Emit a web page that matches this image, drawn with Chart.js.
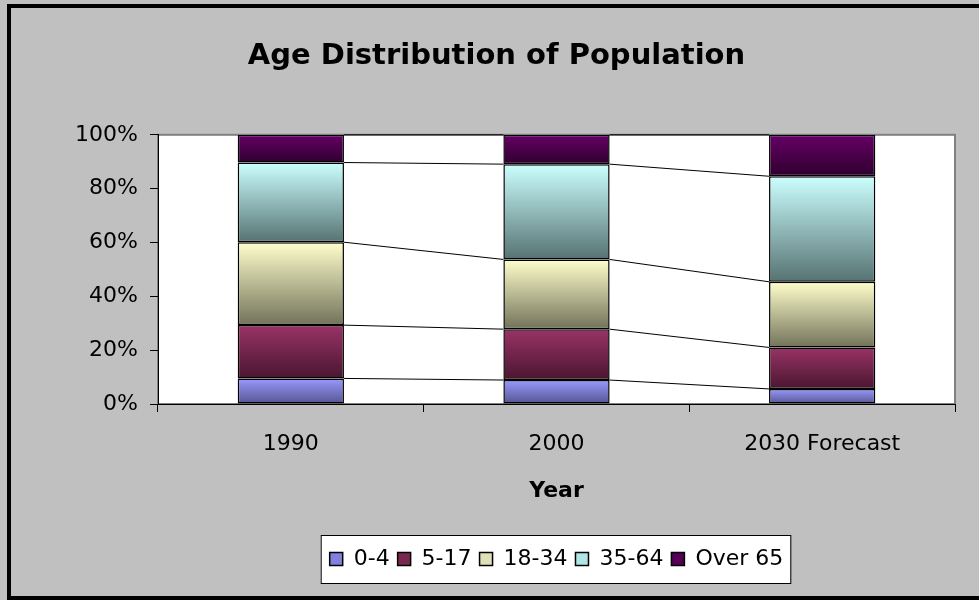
<!DOCTYPE html>
<html lang="en">
  <head>
    <meta charset="UTF-8" />
    <title>Age Distribution of Population</title>
    <script src="https://cdn.jsdelivr.net/npm/chart.js@4"></script>
    <style>
      html,
      body {
        margin: 0;
        padding: 0;
        background: #c0c0c0;
      }
      .chart-container {
        position: relative;
        width: 979px;
        height: 600px;
      }
    </style>
  </head>
  <body>
    <div class="chart-container">
      <canvas id="ageChart"></canvas>
    </div>

    <script>
      // share of population per age group, in percent
      const years = ['1990', '2000', '2030 Forecast'];
      const ages0to4 = [9.5, 8.9, 5.6];
      const ages5to17 = [19.8, 18.9, 15.4];
      const ages18to34 = [30.8, 25.9, 24.4];
      const ages35to64 = [29.6, 35.4, 39.2];
      const agesOver65 = [10.3, 10.9, 15.4];
      const groupLabels = ['0-4', '5-17', '18-34', '35-64', 'Over 65'];
      const percentTicks = [0, 20, 40, 60, 80, 100];

      // light top / dark bottom of each segment, plus the flat legend colour
      const fillTop = ['#9999ff', '#993366', '#ffffcc', '#ccffff', '#660066'];
      const fillBottom = ['#555590', '#4a1630', '#72725a', '#567272', '#2e002e'];
      const swatch = ['#8080dd', '#7a2850', '#e0e0b8', '#b0e6e6', '#550055'];

      Chart.defaults.font.family = "'DejaVu Sans', Verdana, sans-serif";
      Chart.defaults.color = '#000';

      const segmentFill = (i) => (ctx) => {
        const chart = ctx.chart;
        const y = chart.scales.y;
        if (ctx.type !== 'data' || !chart.chartArea || !y) return fillTop[i];
        let below = 0;
        for (let d = 0; d < ctx.datasetIndex; d++) {
          below += chart.data.datasets[d].data[ctx.dataIndex];
        }
        const value = chart.data.datasets[ctx.datasetIndex].data[ctx.dataIndex];
        const g = chart.ctx.createLinearGradient(
          0,
          y.getPixelForValue(below + value),
          0,
          y.getPixelForValue(below)
        );
        g.addColorStop(0, fillTop[i]);
        g.addColorStop(1, fillBottom[i]);
        return g;
      };

      const series = [ages0to4, ages5to17, ages18to34, ages35to64, agesOver65];
      const datasets = series.map((values, i) => ({
        label: groupLabels[i],
        data: values,
        backgroundColor: segmentFill(i),
        borderColor: '#000',
        borderWidth: 1.5,
        borderSkipped: false,
        barPercentage: 0.4,
        categoryPercentage: 1,
      }));

      // grey backdrop, outer frame, white plot area and the legend box
      const backdrop = {
        id: 'backdrop',
        beforeDraw(chart) {
          const { ctx, chartArea: a } = chart;
          ctx.save();
          ctx.fillStyle = '#c0c0c0';
          ctx.fillRect(0, 0, chart.width, chart.height);
          ctx.strokeStyle = '#000';
          ctx.lineWidth = 4;
          ctx.strokeRect(9, 6, chart.width + 20, chart.height - 8);

          ctx.fillStyle = '#fff';
          ctx.fillRect(a.left, a.top, a.right - a.left, a.bottom - a.top);
          ctx.strokeStyle = '#808080';
          ctx.lineWidth = 2;
          ctx.strokeRect(a.left, a.top, a.right - a.left, a.bottom - a.top);

          const boxes = chart.legend.legendHitBoxes;
          if (boxes && boxes.length) {
            const first = boxes[0];
            const last = boxes[boxes.length - 1];
            const mid = first.top + first.height / 2;
            const l = first.left - 9;
            const r = last.left + last.width + 7;
            ctx.fillStyle = '#fff';
            ctx.fillRect(l, mid - 24, r - l, 48);
            ctx.strokeStyle = '#000';
            ctx.lineWidth = 1;
            ctx.strokeRect(l + 0.5, mid - 23.5, r - l, 48);
          }
          ctx.restore();
        },
      };

      // series lines joining the tops of matching segments
      const seriesLines = {
        id: 'seriesLines',
        afterDatasetsDraw(chart) {
          const { ctx } = chart;
          ctx.save();
          ctx.strokeStyle = '#000';
          ctx.lineWidth = 1;
          chart.data.datasets.forEach((ds, d) => {
            const bars = chart.getDatasetMeta(d).data;
            for (let i = 0; i < bars.length - 1; i++) {
              const a = bars[i];
              const b = bars[i + 1];
              ctx.beginPath();
              ctx.moveTo(a.x + a.width / 2, a.y);
              ctx.lineTo(b.x - b.width / 2, b.y);
              ctx.stroke();
            }
          });
          ctx.restore();
        },
      };

      new Chart(document.getElementById('ageChart'), {
        type: 'bar',
        data: { labels: years, datasets },
        options: {
          responsive: true,
          maintainAspectRatio: false,
          animation: false,
          layout: { padding: { left: 38, right: 24, top: 0, bottom: 20 } },
          plugins: {
            tooltip: { enabled: false },
            title: {
              display: true,
              text: 'Age Distribution of Population',
              font: { size: 29, weight: 'bold' },
              color: '#000',
              padding: { top: 39, bottom: 61 },
            },
            legend: {
              position: 'bottom',
              fullSize: false,
              labels: {
                boxWidth: 13,
                boxHeight: 13,
                padding: 8,
                font: { size: 22 },
                color: '#000',
                generateLabels: (chart) =>
                  chart.data.datasets.map((ds, i) => ({
                    text: ds.label,
                    fillStyle: swatch[i],
                    strokeStyle: '#000',
                    lineWidth: 1.5,
                    hidden: false,
                    datasetIndex: i,
                  })),
              },
            },
          },
          scales: {
            x: {
              stacked: true,
              afterFit: (s) => {
                s.height = 136;
              },
              grid: {
                offset: true,
                drawOnChartArea: false,
                drawTicks: true,
                tickLength: 8,
                color: '#000',
              },
              border: { display: true, color: '#000', width: 1 },
              ticks: { font: { size: 22 }, color: '#000', padding: 19 },
              title: {
                display: true,
                text: 'Year',
                font: { size: 22, weight: 'bold' },
                color: '#000',
                padding: { top: 0, bottom: 36 },
              },
            },
            y: {
              stacked: true,
              min: 0,
              max: 100,
              afterFit: (s) => {
                s.width = 120;
              },
              afterBuildTicks: (s) => {
                s.ticks = percentTicks.map((v) => ({ value: v }));
              },
              grid: {
                drawOnChartArea: false,
                drawTicks: true,
                tickLength: 8,
                color: '#000',
              },
              border: { display: true, color: '#000', width: 1 },
              ticks: {
                font: { size: 22 },
                color: '#000',
                padding: 12,
                callback: (v) => v + '%',
              },
            },
          },
        },
        plugins: [backdrop, seriesLines],
      });
    </script>
  </body>
</html>
